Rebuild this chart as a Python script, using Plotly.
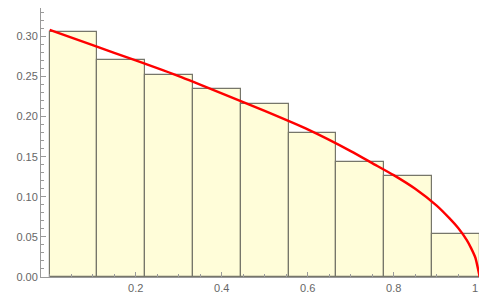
import numpy as np
import plotly.graph_objects as go

# Histogram bin heights (9 equal bins on [0, 1])
bar_heights = [0.306, 0.270, 0.252, 0.234, 0.216, 0.180, 0.144, 0.126, 0.054]

# Red density curve
curve_x = [0.0, 0.1, 0.2, 0.3, 0.4, 0.5, 0.6, 0.7, 0.75, 0.8, 0.85, 0.9, 0.93, 0.95, 0.97, 0.98, 0.99, 1.0]
curve_y = [0.308, 0.289, 0.270, 0.2505, 0.229, 0.207, 0.184, 0.157, 0.142, 0.127, 0.110, 0.089, 0.073, 0.061, 0.046, 0.036, 0.024, 0.0]

# Tick labels
x_tick_vals = [0.2, 0.4, 0.6, 0.8, 1.0]
x_tick_text = ["0.2", "0.4", "0.6", "0.8", "1.0"]
y_tick_vals = [0.00, 0.05, 0.10, 0.15, 0.20, 0.25, 0.30]
y_tick_text = ["0.00", "0.05", "0.10", "0.15", "0.20", "0.25", "0.30"]

n_bins = len(bar_heights)
edges = np.linspace(0, 1, n_bins + 1)
centers = (edges[:-1] + edges[1:]) / 2
width = edges[1] - edges[0]

fig = go.Figure()
fig.add_trace(go.Bar(
    x=centers, y=bar_heights, width=[width] * n_bins,
    marker=dict(color="#FFFDD9", line=dict(color="#76766a", width=1.2)),
    hoverinfo="skip",
))
fig.add_trace(go.Scatter(
    x=curve_x, y=curve_y, mode="lines",
    line=dict(color="#FF0000", width=2.4, shape="spline", smoothing=0.6),
    hoverinfo="skip", cliponaxis=False,
))

axis_color = "#9a9a9a"
font = dict(family="Liberation Sans, Arial, sans-serif", size=11, color="#666666")

# The page body has an 8px default margin, so the figure is sized to fit the window.
fig.update_layout(
    width=479, height=287,
    margin=dict(l=33, r=4, t=0, b=18),
    paper_bgcolor="white", plot_bgcolor="white",
    showlegend=False, bargap=0,
    font=font,
    xaxis=dict(
        range=[-0.0202, 1.0077], showgrid=False, zeroline=False, automargin=False,
        showline=True, linecolor=axis_color, linewidth=1,
        ticks="inside", ticklen=5, tickcolor=axis_color, tickwidth=1,
        tickvals=x_tick_vals, ticktext=x_tick_text,
        minor=dict(dtick=0.05, tick0=0, ticks="inside", ticklen=3, tickcolor=axis_color, showgrid=False),
        tickfont=font, ticklabelstandoff=1, ticklabeloverflow="allow",
    ),
    yaxis=dict(
        range=[0, 0.3354], showgrid=False, zeroline=False, automargin=False,
        showline=True, linecolor=axis_color, linewidth=1,
        ticks="inside", ticklen=5, tickcolor=axis_color, tickwidth=1,
        tickvals=y_tick_vals, ticktext=y_tick_text,
        minor=dict(dtick=0.01, tick0=0, ticks="inside", ticklen=3, tickcolor=axis_color, showgrid=False),
        tickfont=font,
    ),
)

fig.write_html("out.html")
